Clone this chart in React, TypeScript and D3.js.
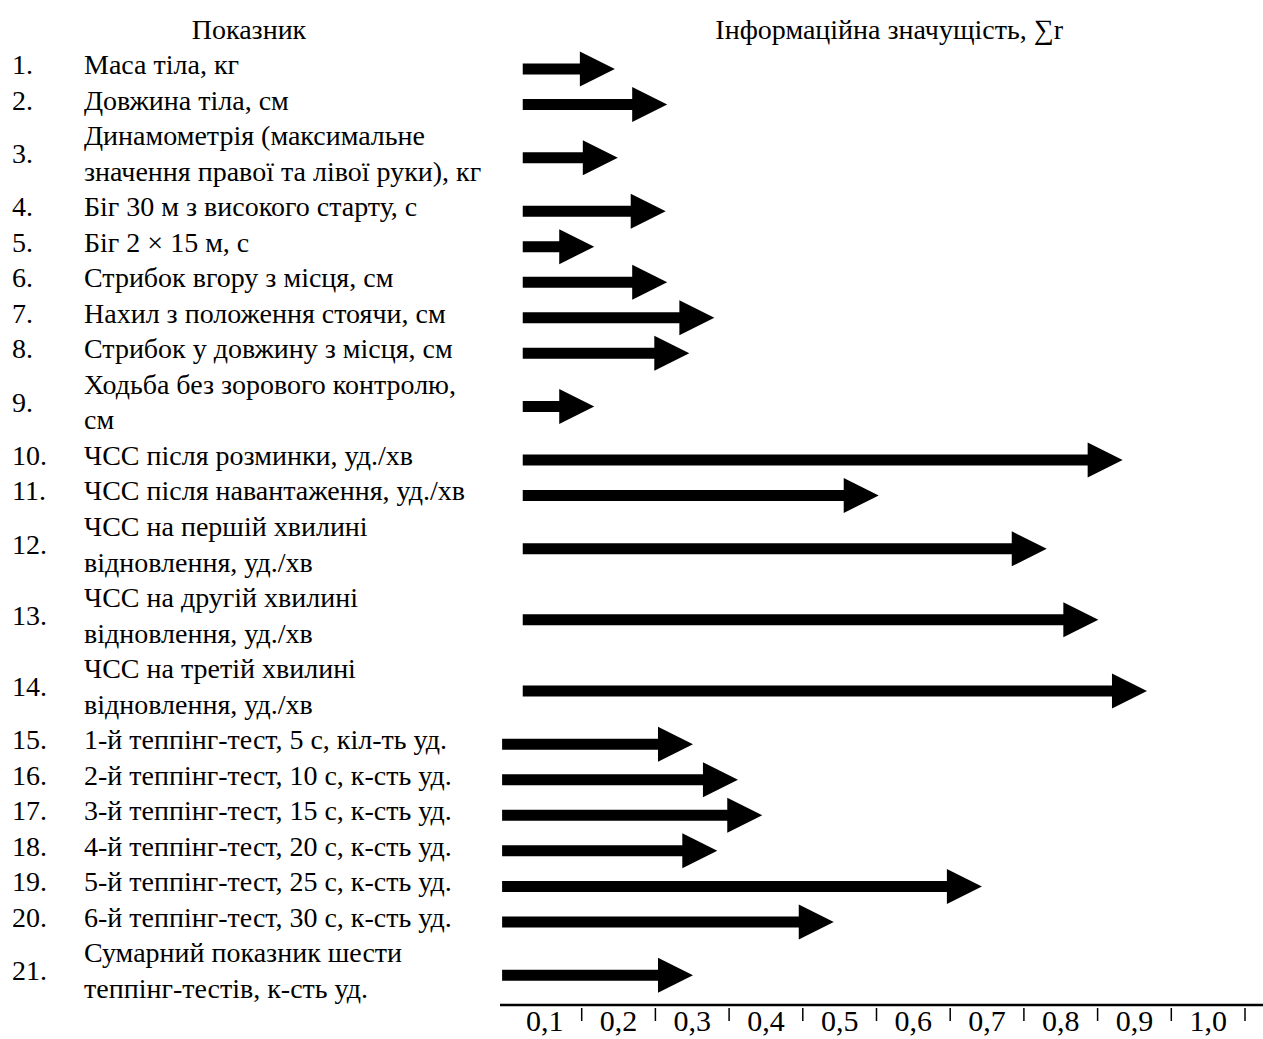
import React from "react";
import * as d3 from "d3";

const WIDTH = 1263;
const HEIGHT = 1039;

// показники (рядки підпису можуть переноситись)
const indicators: string[][] = [
  ["Маса тіла, кг"],
  ["Довжина тіла, см"],
  ["Динамометрія (максимальне", "значення правої та лівої руки), кг"],
  ["Біг 30 м з високого старту, с"],
  ["Біг 2 × 15 м, с"],
  ["Стрибок вгору з місця, см"],
  ["Нахил з положення стоячи, см"],
  ["Стрибок у довжину з місця, см"],
  ["Ходьба без зорового контролю,", "см"],
  ["ЧСС після розминки, уд./хв"],
  ["ЧСС після навантаження, уд./хв"],
  ["ЧСС на першій хвилині", "відновлення, уд./хв"],
  ["ЧСС на другій хвилині", "відновлення, уд./хв"],
  ["ЧСС на третій хвилині", "відновлення, уд./хв"],
  ["1-й теппінг-тест, 5 с, кіл-ть уд."],
  ["2-й теппінг-тест, 10 с, к-сть уд."],
  ["3-й теппінг-тест, 15 с, к-сть уд."],
  ["4-й теппінг-тест, 20 с, к-сть уд."],
  ["5-й теппінг-тест, 25 с, к-сть уд."],
  ["6-й теппінг-тест, 30 с, к-сть уд."],
  ["Сумарний показник шести", "теппінг-тестів, к-сть уд."],
];

// інформаційна значущість (кінець стрілки), ∑r
const significance = [
  0.145, 0.216, 0.149, 0.214, 0.117, 0.216, 0.28, 0.246, 0.117, 0.834, 0.503,
  0.731, 0.801, 0.867, 0.251, 0.312, 0.345, 0.284, 0.643, 0.442, 0.251,
];

// де починається стрілка
const arrowStart = [
  0.02, 0.02, 0.02, 0.02, 0.02, 0.02, 0.02, 0.02, 0.02, 0.02, 0.02, 0.02, 0.02,
  0.02, -0.008, -0.008, -0.008, -0.008, -0.008, -0.008, -0.008,
];

const tickValues = [0.1, 0.2, 0.3, 0.4, 0.5, 0.6, 0.7, 0.8, 0.9, 1.0];
const tickLabels = ["0,1", "0,2", "0,3", "0,4", "0,5", "0,6", "0,7", "0,8", "0,9", "1,0"];

const FONT = "'Liberation Serif', 'Times New Roman', serif";
const FS = 28;
const SHAFT = 5.5;
const HEAD_LEN = 35;
const HEAD_HALF = 17.5;
const AXIS_Y = 1005;
const AXIS_LEFT = 500;

export default function App() {
  const x = d3.scaleLinear().domain([0, 1]).range([508, 1245]);

  // рядки тексту на рівномірній сітці
  const totalLines = d3.sum(indicators, (d) => d.length);
  const yLine = d3.scaleLinear().domain([0, totalLines - 1]).range([65, 989]);

  const firstLine = d3.cumsum([0, ...indicators.map((d) => d.length)]);
  const rows = indicators.map((lines, i) => {
    const start = firstLine[i];
    const center = yLine(start + (lines.length - 1) / 2);
    return { lines, start, center, i };
  });

  const arrowPath = (x0: number, x1: number, y: number) => {
    const p = d3.path();
    const hb = x1 - HEAD_LEN;
    p.moveTo(x0, y - SHAFT);
    p.lineTo(hb, y - SHAFT);
    p.lineTo(hb, y - HEAD_HALF);
    p.lineTo(x1, y);
    p.lineTo(hb, y + HEAD_HALF);
    p.lineTo(hb, y + SHAFT);
    p.lineTo(x0, y + SHAFT);
    p.closePath();
    return p.toString();
  };

  return (
    <svg
      width={WIDTH}
      height={HEIGHT}
      viewBox={`0 0 ${WIDTH} ${HEIGHT}`}
      style={{ position: "absolute", left: 0, top: 0, background: "#fff" }}
      fontFamily={FONT}
    >
      <rect width={WIDTH} height={HEIGHT} fill="#fff" />
      {/* заголовки */}
      <text x={249} y={39} fontSize={FS} textAnchor="middle">Показник</text>
      <text x={1063} y={39} fontSize={FS} textAnchor="end">Інформаційна значущість, ∑r</text>

      {/* підписи показників */}
      {rows.map((r) => (
        <g key={r.i}>
          <text x={12} y={r.center + 9} fontSize={FS}>{`${r.i + 1}.`}</text>
          {r.lines.map((line, k) => (
            <text key={k} x={84} y={yLine(r.start + k) + 9} fontSize={FS}>{line}</text>
          ))}
        </g>
      ))}

      {/* стрілки */}
      {rows.map((r) => (
        <path key={r.i} d={arrowPath(x(arrowStart[r.i]), x(significance[r.i]), r.center + 4)} fill="#000" />
      ))}

      {/* вісь */}
      <line x1={AXIS_LEFT} x2={WIDTH} y1={AXIS_Y} y2={AXIS_Y} stroke="#000" strokeWidth={2.5} />
      {tickValues.map((v, i) => (
        <g key={v}>
          <line x1={x(v)} x2={x(v)} y1={AXIS_Y + 3} y2={AXIS_Y + 16} stroke="#000" strokeWidth={1.5} />
          <text x={x(v - 0.05)} y={AXIS_Y + 26} fontSize={30} textAnchor="middle">{tickLabels[i]}</text>
        </g>
      ))}
    </svg>
  );
}
